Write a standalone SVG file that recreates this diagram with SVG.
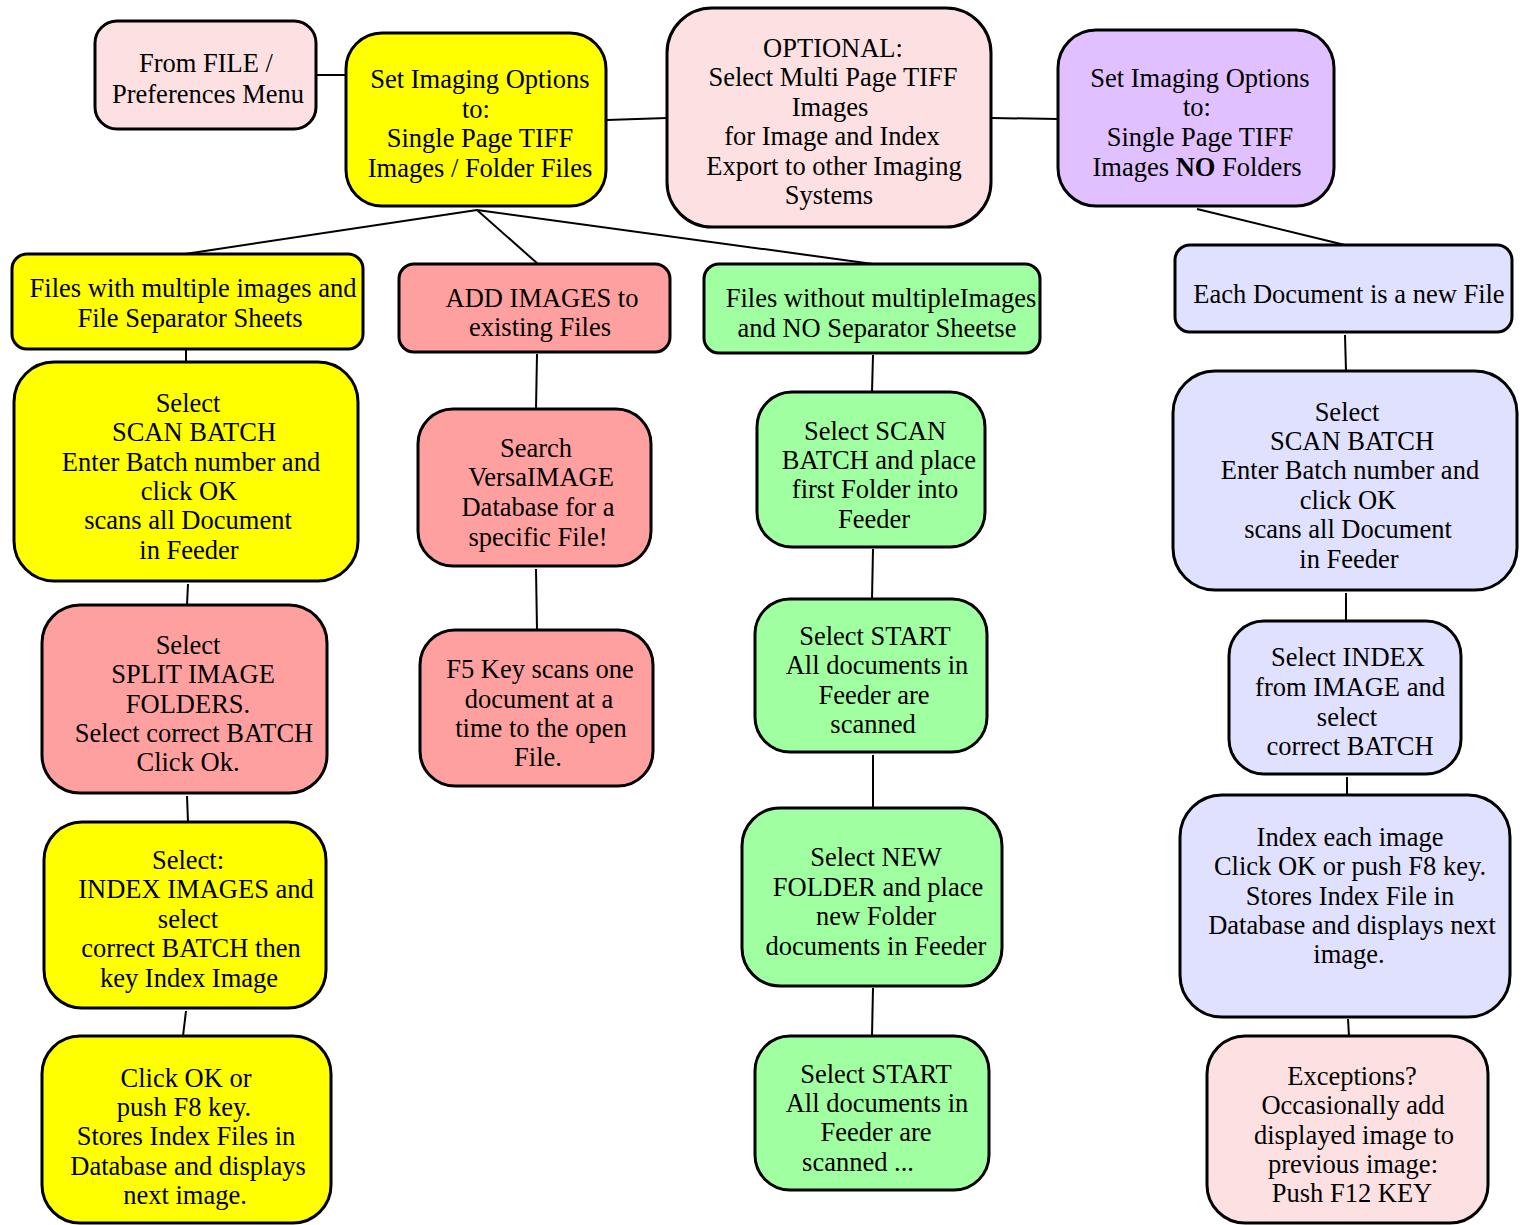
<svg xmlns="http://www.w3.org/2000/svg" width="1528" height="1225" viewBox="0 0 1528 1225">
<style>
.n{stroke:#000;stroke-width:3}
.t{font-family:"Liberation Serif",Tinos,"Times New Roman",Times,serif;font-size:26.5px;fill:#000;text-anchor:middle}
.c{stroke:#000;stroke-width:2;fill:none}
.pk{fill:#fde0e1}.ye{fill:#ffff00}.sa{fill:#ffa0a0}.gr{fill:#a0ffa0}.lv{fill:#e0e0ff}.pu{fill:#e0c0ff}
</style>
<rect width="1528" height="1225" fill="#fff"/>
<g id="connectors">
<line class="c" x1="316" y1="75" x2="346" y2="75"/>
<line class="c" x1="607" y1="120" x2="667" y2="118"/>
<line class="c" x1="992" y1="118" x2="1058" y2="119"/>
<line class="c" x1="477" y1="210" x2="185" y2="254"/>
<line class="c" x1="477" y1="210" x2="538" y2="264"/>
<line class="c" x1="477" y1="210" x2="873" y2="264"/>
<line class="c" x1="1197" y1="209" x2="1345" y2="245"/>
<line class="c" x1="186" y1="349" x2="186" y2="362"/>
<line class="c" x1="537" y1="354" x2="536" y2="409"/>
<line class="c" x1="873" y1="355" x2="872" y2="392"/>
<line class="c" x1="1345" y1="335" x2="1346" y2="371"/>
<line class="c" x1="188" y1="584" x2="187" y2="605"/>
<line class="c" x1="536" y1="569" x2="537" y2="630"/>
<line class="c" x1="873" y1="549" x2="872" y2="599"/>
<line class="c" x1="1346" y1="593" x2="1346" y2="621"/>
<line class="c" x1="187" y1="796" x2="188" y2="822"/>
<line class="c" x1="873" y1="755" x2="873" y2="808"/>
<line class="c" x1="1347" y1="777" x2="1347" y2="795"/>
<line class="c" x1="186" y1="1011" x2="183" y2="1036"/>
<line class="c" x1="873" y1="988" x2="872" y2="1036"/>
<line class="c" x1="1348" y1="1019" x2="1349" y2="1036"/>
</g>
<g id="n1"><rect class="n pk" x="95" y="21" width="221" height="108" rx="22"/>
<text class="t" x="206" y="72">From FILE /</text><text class="t" x="208" y="103">Preferences Menu</text></g>
<g id="n2"><rect class="n ye" x="346" y="33" width="260" height="173" rx="36"/>
<text class="t" x="480" y="88">Set Imaging Options</text><text class="t" x="476" y="118">to:</text><text class="t" x="480" y="147">Single Page TIFF</text><text class="t" x="480" y="177">Images / Folder Files</text></g>
<g id="n3"><rect class="n pk" x="667" y="8" width="324" height="219" rx="45"/>
<text class="t" x="833" y="57">OPTIONAL:</text><text class="t" x="833" y="86">Select Multi Page TIFF</text><text class="t" x="830" y="116">Images</text><text class="t" x="832" y="145">for Image and Index</text><text class="t" x="834" y="175">Export to other Imaging</text><text class="t" x="829" y="204">Systems</text></g>
<g id="n4"><rect class="n pu" x="1058" y="30" width="276" height="176" rx="38"/>
<text class="t" x="1200" y="87">Set Imaging Options</text><text class="t" x="1197" y="116">to:</text><text class="t" x="1200" y="146">Single Page TIFF</text><text class="t" x="1197" y="176">Images <tspan font-weight="bold">NO</tspan> Folders</text></g>
<g id="n5"><rect class="n ye" x="12" y="254" width="351" height="95" rx="15"/>
<text class="t" x="193" y="297">Files with multiple images and</text><text class="t" x="190" y="327">File Separator Sheets</text></g>
<g id="n6"><rect class="n sa" x="399" y="264" width="271" height="88" rx="15"/>
<text class="t" x="542" y="307">ADD IMAGES to</text><text class="t" x="540" y="336">existing Files</text></g>
<g id="n7"><rect class="n gr" x="704" y="264" width="336" height="89" rx="15"/>
<text class="t" x="881" y="307">Files without multipleImages</text><text class="t" x="877" y="337">and NO Separator Sheetse</text></g>
<g id="n8"><rect class="n lv" x="1175" y="245" width="337" height="87" rx="15"/>
<text class="t" x="1349" y="303">Each Document is a new File</text></g>
<g id="n9"><rect class="n ye" x="14" y="362" width="344" height="219" rx="40"/>
<text class="t" x="188" y="412">Select</text><text class="t" x="194" y="441">SCAN BATCH</text><text class="t" x="191" y="471">Enter Batch number and</text><text class="t" x="189" y="500">click OK</text><text class="t" x="188" y="529">scans all Document</text><text class="t" x="189" y="559">in Feeder</text></g>
<g id="n10"><rect class="n sa" x="418" y="409" width="233" height="157" rx="35"/>
<text class="t" x="536" y="457">Search</text><text class="t" x="541" y="486">VersaIMAGE</text><text class="t" x="538" y="516">Database for a</text><text class="t" x="538" y="546">specific File!</text></g>
<g id="n11"><rect class="n gr" x="757" y="392" width="228" height="155" rx="35"/>
<text class="t" x="875" y="440">Select SCAN</text><text class="t" x="879" y="469">BATCH and place</text><text class="t" x="875" y="498">first Folder into</text><text class="t" x="874" y="528">Feeder</text></g>
<g id="n12"><rect class="n lv" x="1173" y="371" width="344" height="219" rx="42"/>
<text class="t" x="1347" y="421">Select</text><text class="t" x="1352" y="450">SCAN BATCH</text><text class="t" x="1350" y="479">Enter Batch number and</text><text class="t" x="1348" y="509">click OK</text><text class="t" x="1348" y="538">scans all Document</text><text class="t" x="1349" y="568">in Feeder</text></g>
<g id="n13"><rect class="n sa" x="42" y="605" width="285" height="188" rx="38"/>
<text class="t" x="188" y="654">Select</text><text class="t" x="193" y="683">SPLIT IMAGE</text><text class="t" x="188" y="713">FOLDERS.</text><text class="t" x="194" y="742">Select correct BATCH</text><text class="t" x="188" y="771">Click Ok.</text></g>
<g id="n14"><rect class="n sa" x="420" y="630" width="233" height="156" rx="35"/>
<text class="t" x="540" y="678">F5 Key scans one</text><text class="t" x="539" y="708">document at a</text><text class="t" x="541" y="737">time to the open</text><text class="t" x="538" y="766">File.</text></g>
<g id="n15"><rect class="n gr" x="755" y="599" width="232" height="153" rx="35"/>
<text class="t" x="875" y="645">Select START</text><text class="t" x="877" y="674">All documents in</text><text class="t" x="874" y="704">Feeder are</text><text class="t" x="873" y="733">scanned</text></g>
<g id="n16"><rect class="n lv" x="1229" y="621" width="232" height="153" rx="35"/>
<text class="t" x="1348" y="666">Select INDEX</text><text class="t" x="1350" y="696">from IMAGE and</text><text class="t" x="1347" y="726">select</text><text class="t" x="1350" y="755">correct BATCH</text></g>
<g id="n17"><rect class="n ye" x="44" y="822" width="282" height="186" rx="38"/>
<text class="t" x="188" y="869">Select:</text><text class="t" x="196" y="898">INDEX IMAGES and</text><text class="t" x="188" y="928">select</text><text class="t" x="191" y="957">correct BATCH then</text><text class="t" x="189" y="987">key Index Image</text></g>
<g id="n18"><rect class="n gr" x="742" y="808" width="260" height="178" rx="38"/>
<text class="t" x="876" y="866">Select NEW</text><text class="t" x="878" y="896">FOLDER and place</text><text class="t" x="876" y="925">new Folder</text><text class="t" x="876" y="955">documents in Feeder</text></g>
<g id="n19"><rect class="n lv" x="1180" y="795" width="330" height="222" rx="42"/>
<text class="t" x="1350" y="846">Index each image</text><text class="t" x="1350" y="875">Click OK or push F8 key.</text><text class="t" x="1350" y="905">Stores Index File in</text><text class="t" x="1352" y="934">Database and displays next</text><text class="t" x="1349" y="963">image.</text></g>
<g id="n20"><rect class="n ye" x="42" y="1036" width="289" height="187" rx="38"/>
<text class="t" x="186" y="1087">Click OK or</text><text class="t" x="184" y="1116">push F8 key.</text><text class="t" x="186" y="1145">Stores Index Files in</text><text class="t" x="188" y="1175">Database and displays</text><text class="t" x="185" y="1204">next image.</text></g>
<g id="n21"><rect class="n gr" x="755" y="1036" width="234" height="154" rx="35"/>
<text class="t" x="876" y="1083">Select START</text><text class="t" x="877" y="1112">All documents in</text><text class="t" x="876" y="1141">Feeder are</text><text class="t" x="858" y="1171">scanned ...</text></g>
<g id="n22"><rect class="n pk" x="1207" y="1036" width="281" height="187" rx="38"/>
<text class="t" x="1352" y="1085">Exceptions?</text><text class="t" x="1353" y="1114">Occasionally add</text><text class="t" x="1354" y="1144">displayed image to</text><text class="t" x="1353" y="1173">previous image:</text><text class="t" x="1352" y="1202">Push F12 KEY</text></g>
</svg>
